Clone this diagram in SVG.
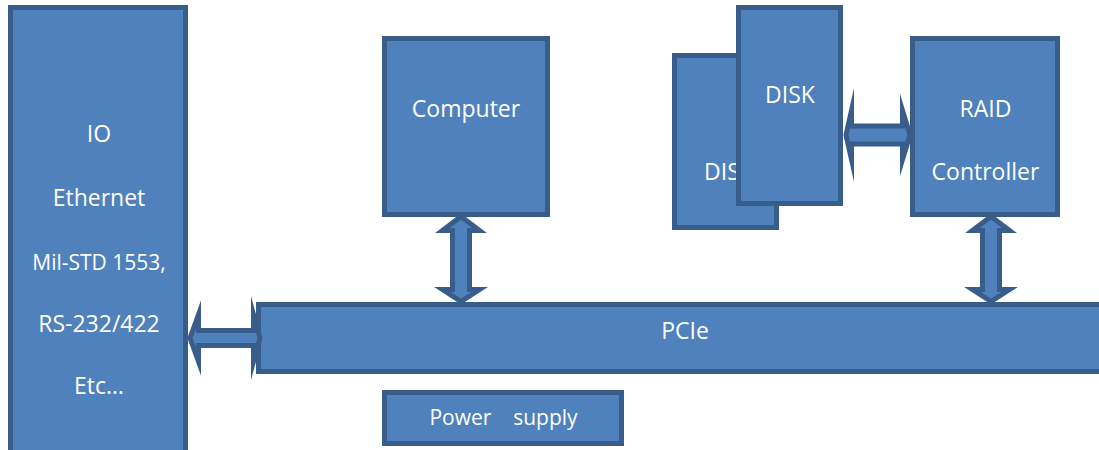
<svg xmlns="http://www.w3.org/2000/svg" width="1099" height="450" viewBox="0 0 1099 450">
  <style>
    .box { fill: #4F81BD; stroke: #385D8A; stroke-width: 5; }
    .arrow { fill: #4F81BD; stroke: #385D8A; stroke-width: 5; stroke-linejoin: miter; stroke-miterlimit: 10; }
    .label { fill: #FFFFFF; font-family: "Open Sans", Lato, "Liberation Sans", sans-serif; font-size: 23px; text-anchor: middle; }
    .small { font-size: 21px; }
  </style>
  <rect width="1099" height="450" fill="#FFFFFF"/>

  <g id="io">
    <rect class="box" x="10.5" y="7.5" width="175" height="460"/>
    <text class="label" x="99" y="142">IO</text>
    <text class="label" x="99" y="206">Ethernet</text>
    <text class="label small" x="99" y="270">Mil-STD 1553,</text>
    <text class="label" x="99" y="332">RS-232/422</text>
    <text class="label" x="99" y="394">Etc…</text>
  </g>

  <g id="pcie">
    <rect class="box" x="258.5" y="304.5" width="860" height="67"/>
    <text class="label" x="685" y="339">PCIe</text>
  </g>

  <g id="computer">
    <rect class="box" x="384.5" y="38.5" width="163" height="176"/>
    <text class="label" x="466" y="117">Computer</text>
  </g>

  <g id="disk-back">
    <rect class="box" x="674.5" y="55.5" width="102" height="172"/>
    <text class="label" x="729" y="180">DISK</text>
  </g>

  <g id="disk-front">
    <rect class="box" x="738.5" y="7.5" width="102" height="196"/>
    <text class="label" x="790" y="103">DISK</text>
  </g>

  <g id="raid">
    <rect class="box" x="912.5" y="38.5" width="145" height="176"/>
    <text class="label" x="985.5" y="117">RAID</text>
    <text class="label" x="985.5" y="180">Controller</text>
  </g>

  <g id="power">
    <rect class="box" x="384.5" y="392.5" width="237" height="51"/>
    <text class="label small" x="503.5" y="425" xml:space="preserve">Power    supply</text>
  </g>

  <g id="connectors">
    <!-- IO <-> PCIe -->
    <path class="arrow" d="M190,338 L198.5,314.5 L198.5,330.5 L253.5,330.5 L253.5,314.5 L260,338 L253.5,361.5 L253.5,345.5 L198.5,345.5 L198.5,361.5 Z"/>
    <!-- Computer <-> PCIe -->
    <path class="arrow" d="M461,216.5 L479.5,230.5 L469.5,230.5 L469.5,289.5 L479.5,289.5 L461,301.5 L442.5,289.5 L452.5,289.5 L452.5,230.5 L442.5,230.5 Z"/>
    <!-- RAID <-> PCIe -->
    <path class="arrow" d="M991,216.5 L1009.5,230.5 L999.5,230.5 L999.5,289.5 L1009.5,289.5 L991,301.5 L972.5,289.5 L982.5,289.5 L982.5,230.5 L972.5,230.5 Z"/>
    <!-- DISK <-> RAID -->
    <path class="arrow" d="M846,135 L851.5,110.5 L851.5,126 L902.5,126 L902.5,110.5 L910,135 L902.5,159.5 L902.5,144 L851.5,144 L851.5,159.5 Z"/>
  </g>
</svg>
